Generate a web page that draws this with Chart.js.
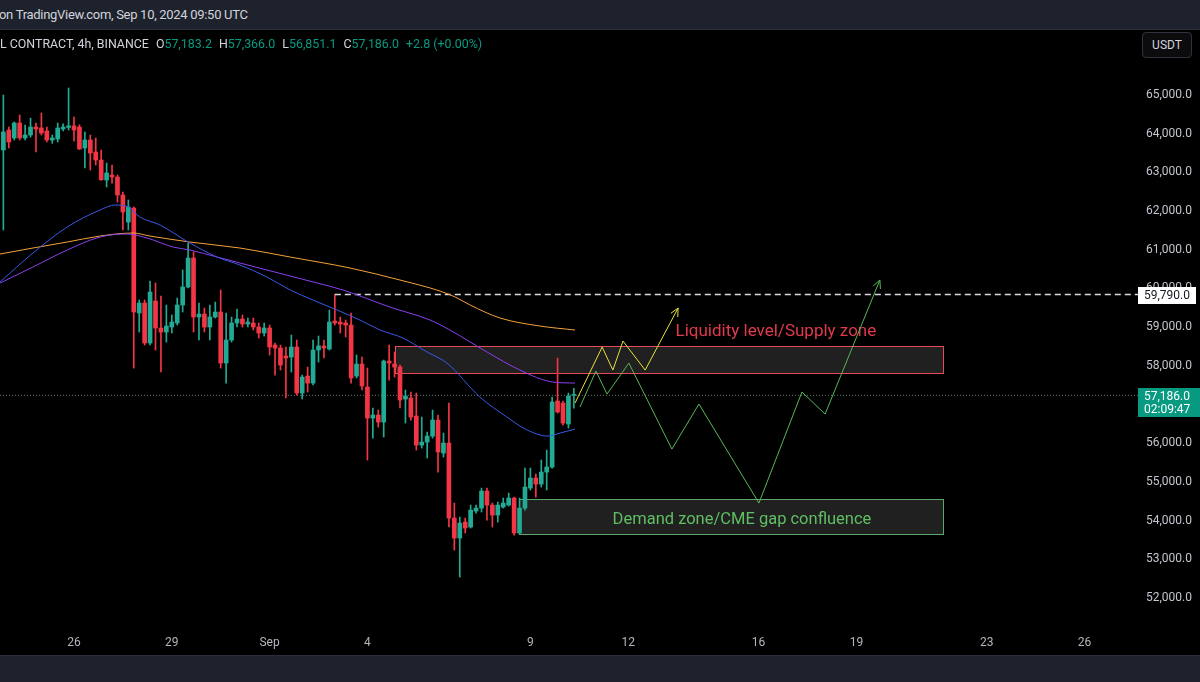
<!DOCTYPE html>
<html><head><meta charset="utf-8">
<script src="https://cdn.jsdelivr.net/npm/chart.js@4.4.0/dist/chart.umd.min.js"></script>
<style>
html,body{margin:0;padding:0;background:#000;width:1200px;height:682px;overflow:hidden;font-family:Roboto,"Noto Sans",sans-serif;}
#top{position:absolute;left:0;top:0;width:1200px;height:29px;background:#1e222d;border-bottom:1px solid #2a2e39;color:#d1d4dc;font-size:13px;line-height:29px;z-index:3;letter-spacing:-0.3px}
#top span{position:relative;left:-1px}
#legend{position:absolute;left:0;top:36px;font-size:12.4px;color:#d1d4dc;white-space:pre;z-index:3}
#legend .v{color:#089981}
#legend .g{margin-left:7px}
#usdt{position:absolute;left:1142px;top:32px;width:50px;height:26px;box-sizing:border-box;border:1px solid #2f333e;border-radius:4px;color:#d1d4dc;font-size:12px;line-height:24px;text-align:center;background:#0c0c0e;z-index:3}
#bottom{position:absolute;left:0;top:655px;width:1200px;height:27px;background:#1e222d;border-top:1px solid #2a2e39;box-sizing:border-box}
#wrap{position:absolute;left:0;top:30px;width:1200px;height:625px;}
</style></head>
<body>
<div id="top"><span>on TradingView.com, Sep 10, 2024 09:50 UTC</span></div>
<div id="legend">L CONTRACT, 4h, BINANCE<span class="g">O</span><span class="v">57,183.2</span><span class="g">H</span><span class="v">57,366.0</span><span class="g">L</span><span class="v">56,851.1</span><span class="g">C</span><span class="v">57,186.0</span><span class="g v">+2.8 (+0.00%)</span></div>
<div id="usdt">USDT</div>
<div id="wrap"><canvas id="c" width="1200" height="625"></canvas></div>
<div id="bottom"></div>
<script>
// ---------- DATA ----------
const startDay = -13/6; // first 4h candle: Aug 23 20:00 (days relative to Aug 26 00:00)
const opens  = [63527,64043,63837,64224,63837,63914,64121,64095,64018,63785,63811,64069,64110,64150,64121,63578,63785,63475,63268,62751,62880,62829,62363,61665,62027,59313,59571,58538,59623,58926,58822,58951,59055,59520,59985,60735,59210,59287,58951,59210,59339,58020,58615,59055,59158,59029,59055,58951,58796,58926,58486,58408,58202,58176,58434,57245,57684,57503,58357,58461,58383,59106,59080,59055,59003,57684,57994,57400,56599,56677,56495,58072,57994,57917,57090,57116,56651,55901,55978,56133,56547,55694,55952,54014,53497,53911,53782,54195,54272,54712,54350,54091,54298,54350,54531,53627,54272,54789,55048,54893,55203,55332,57039,56987,56444,57183.2];
const highs  = [64948,64121,64250,64431,64173,64350,64224,64483,64121,63914,64224,64200,65129,64380,64180,63992,63914,63837,63527,63190,63139,62880,62441,62234,62053,59650,59650,60140,60090,59753,59520,59261,59700,60425,61123,60890,59571,59442,59520,59597,59908,59313,59210,59416,59261,59184,59184,59055,59055,59003,58538,58486,58434,58745,58615,57710,57917,58615,58719,58615,59390,59790,59210,59132,59313,58227,58176,57891,56858,56806,58098,58486,58305,57969,57323,57271,57245,56625,56236,56806,56677,56210,56987,54402,54040,54014,54350,54350,54789,54789,54402,54428,54531,54660,54557,54531,55306,55306,55151,55513,55771,57142,58150,57039,57245,57366.0];
const lows   = [61459,63578,63785,63785,63785,63860,63475,63914,63733,63700,63733,64018,64043,63760,63540,63061,63010,63139,62740,62570,62670,62180,61459,61459,57891,58822,58486,58486,58357,57788,58563,58796,59003,59339,59960,58822,58615,58822,58615,59184,57891,57503,58563,58951,58951,58951,58874,58667,58719,58227,57710,57839,57116,57788,57194,57090,57271,57452,58047,58150,58357,59003,58796,58693,57503,57633,57323,55513,56081,56366,56107,57581,57658,56858,56470,56547,55771,55823,55565,56081,55203,55590,53782,53187,52489,53627,53756,54140,54170,53962,53782,53911,54272,54324,53575,53600,54220,54738,54557,54815,54738,55306,56729,56418,56340,56851.1];
const closes = [63992,63733,64224,63837,63914,64121,64069,63966,63785,63837,64095,64121,64150,64043,63552,63785,63449,63268,62760,62932,62829,62363,61924,62053,59339,59571,58538,59856,58926,58822,58977,59080,59520,59985,60735,59210,59287,58951,59210,59339,58020,58615,59055,59158,59029,59080,58951,58796,58926,58434,58408,57969,58150,58434,57245,57658,57503,58357,58461,58408,59080,59055,59029,59003,57633,57994,57426,56599,56677,56495,58072,58020,57917,57064,57168,56625,55901,55978,56133,56547,55720,55952,54014,53497,53885,53756,54220,54272,54712,54350,54091,54350,54402,54531,53627,54272,54815,55048,54893,55203,55332,57013,56754,56470,57168,57186.0];

// moving averages: [day, price]
const maBlue   = [[-2.27,60114],[-1.26,60864],[-0.21,61536],[0.80,61976],[1.26,62105],[1.66,62053],[2.02,61795],[2.64,61588],[3.50,61148],[4.39,60760],[5.09,60554],[5.92,60243],[6.63,59908],[7.33,59649],[8.07,59390],[8.77,59132],[9.39,58874],[10.09,58667],[10.83,58305],[11.44,58020],[12.45,57142],[13.28,56625],[13.90,56289],[14.54,56133],[14.91,56211],[15.37,56314]];
const maPurple = [[-2.27,60088],[-1.26,60502],[-0.21,60941],[0.80,61278],[1.63,61355],[2.24,61252],[3.04,61019],[3.56,60941],[4.39,60760],[5.09,60606],[5.92,60425],[6.63,60270],[7.46,60090],[8.25,59908],[9.69,59468],[10.92,59132],[11.53,58874],[12.67,58305],[13.68,57839],[14.69,57529],[15.37,57503]];
const maOrange = [[-2.27,60838],[-1.26,60993],[-0.21,61148],[0.80,61303],[1.81,61381],[2.33,61303],[3.56,61148],[5.09,60993],[6.63,60760],[8.47,60476],[10.0,60166],[11.23,59880],[11.69,59727],[12.15,59520],[13.07,59184],[14.29,58977],[15.37,58874]];

// projected paths: [day, price]
const pathYellow = [[15.37,56987],[16.20,58434],[16.53,57839],[16.84,58589],[17.52,57839],[18.53,59442]];
const pathGreen  = [[15.52,56883],[16.01,57813],[16.35,57219],[17.02,58020],[18.34,55797],[19.17,56961],[21.01,54402],[22.33,57271],[23.04,56702],[24.72,60166]];

// zones: [fromDay, toDay, topPrice, bottomPrice]
const supplyZone = [9.85, 26.66, 58460, 57762];
const demandZone = [13.65, 26.66, 54505, 53600];
const supplyText = 'Liquidity level/Supply zone', supplyTextAt = [21.53, 58820];
const demandText = 'Demand zone/CME gap confluence', demandTextAt = [20.49, 53962];

const levelPrice = 59790, levelFrom = 8.0;
const lastPrice = 57186.0, countdown = '02:09:47';

const tickDays   = [0,3,6,9,14,17,21,24,28,31];
const tickLabels = ['26','29','Sep','4','9','12','16','19','23','26'];
const priceTicks = [52000,53000,54000,55000,56000,57000,58000,59000,60000,61000,62000,63000,64000,65000];

const xMin = -2.270, xMax = 32.699, yMin = 51121, yMax = 66628;

// ---------- CHART ----------
const UP = '#22ab94', DN = '#f23645';
const times = opens.map((_, i) => startDay + i / 6);
const candleCol = closes.map((c, i) => c >= opens[i] ? UP : DN);
const fmt = v => v.toLocaleString('en-US', {minimumFractionDigits: 1, maximumFractionDigits: 1});
const pts = a => a.map(p => ({x: p[0], y: p[1]}));

Chart.defaults.font.family = "Roboto, 'Noto Sans', sans-serif";
Chart.defaults.font.size = 12;

const zonePlugin = {
  id: 'zones',
  beforeDatasetsDraw(chart) {
    const {ctx, scales: {x, y}} = chart;
    ctx.save();
    const drawZone = (z, stroke) => {
      const x1 = Math.round(x.getPixelForValue(z[0])) + 0.5, x2 = Math.round(x.getPixelForValue(z[1])) + 0.5;
      const y1 = Math.round(y.getPixelForValue(z[2])) + 0.5, y2 = Math.round(y.getPixelForValue(z[3])) + 0.5;
      ctx.fillStyle = 'rgba(70,70,70,0.45)';
      ctx.fillRect(x1, y1, x2 - x1, y2 - y1);
      ctx.strokeStyle = stroke; ctx.lineWidth = 1;
      ctx.strokeRect(x1, y1, x2 - x1, y2 - y1);
    };
    drawZone(supplyZone, '#ea4a58');
    drawZone(demandZone, '#5aa865');
    ctx.textAlign = 'center'; ctx.textBaseline = 'middle';
    ctx.font = "17px Roboto, 'Noto Sans', sans-serif";
    ctx.fillStyle = '#e03a4c';
    ctx.fillText(supplyText, x.getPixelForValue(supplyTextAt[0]), y.getPixelForValue(supplyTextAt[1]));
    ctx.font = "16.5px Roboto, 'Noto Sans', sans-serif";
    ctx.fillStyle = '#5fbf62';
    ctx.fillText(demandText, x.getPixelForValue(demandTextAt[0]), y.getPixelForValue(demandTextAt[1]));
    ctx.restore();
  },
  afterDatasetsDraw(chart) {
    const {ctx} = chart;
    chart.data.datasets.forEach((ds, i) => {
      if (!ds.arrow) return;
      const d = chart.getDatasetMeta(i).data, n = d.length;
      const a = d[n - 2], b = d[n - 1];
      const ang = Math.atan2(b.y - a.y, b.x - a.x), L = 9;
      ctx.save();
      ctx.strokeStyle = ds.borderColor; ctx.lineWidth = 1;
      ctx.beginPath();
      ctx.moveTo(b.x - L * Math.cos(ang - 0.45), b.y - L * Math.sin(ang - 0.45));
      ctx.lineTo(b.x, b.y);
      ctx.lineTo(b.x - L * Math.cos(ang + 0.45), b.y - L * Math.sin(ang + 0.45));
      ctx.stroke();
      ctx.restore();
    });
  },
  afterDraw(chart) {
    const {ctx, scales: {y}, chartArea} = chart;
    const x0 = chartArea.right - 2;
    ctx.save();
    ctx.font = "12px Roboto, 'Noto Sans', sans-serif";
    ctx.textBaseline = 'middle'; ctx.textAlign = 'left';
    let py = Math.round(y.getPixelForValue(levelPrice));
    ctx.fillStyle = '#ffffff';
    ctx.fillRect(x0, py - 8, 58, 17);
    ctx.fillStyle = '#131722';
    ctx.fillText(fmt(levelPrice), x0 + 6, py + 1);
    py = Math.round(y.getPixelForValue(lastPrice));
    ctx.fillStyle = '#089981';
    ctx.fillRect(x0, py - 7, 62, 29);
    ctx.fillStyle = '#ffffff';
    ctx.fillText(fmt(lastPrice), x0 + 6, py + 2);
    ctx.fillText(countdown, x0 + 6, py + 15);
    ctx.restore();
  }
};

new Chart(document.getElementById('c'), {
  type: 'bar',
  data: {
    datasets: [
      {type: 'line', data: pts(maBlue), borderColor: '#3b57e6', borderWidth: 1, pointRadius: 0, cubicInterpolationMode: 'monotone', order: 0},
      {type: 'line', data: pts(maPurple), borderColor: '#8a3ff2', borderWidth: 1, pointRadius: 0, cubicInterpolationMode: 'monotone', order: 0},
      {type: 'line', data: pts(maOrange), borderColor: '#f2a23a', borderWidth: 1, pointRadius: 0, cubicInterpolationMode: 'monotone', order: 0},
      {type: 'line', data: pts(pathYellow), borderColor: '#e9e03c', borderWidth: 1, pointRadius: 0, tension: 0, arrow: true, order: 0},
      {type: 'line', data: pts(pathGreen), borderColor: '#57b657', borderWidth: 1, pointRadius: 0, tension: 0, arrow: true, order: 0},
      {type: 'line', data: [{x: levelFrom, y: levelPrice}, {x: xMax, y: levelPrice}], borderColor: '#d8dae0', borderWidth: 1.5, borderDash: [6, 4], pointRadius: 0, order: 0},
      {type: 'line', data: [{x: xMin, y: lastPrice}, {x: xMax, y: lastPrice}], borderColor: 'rgba(120,150,140,0.8)', borderWidth: 1, borderDash: [1, 2], pointRadius: 0, order: 3},
      {type: 'bar', data: times.map((t, i) => ({x: t, y: [opens[i], closes[i]]})), backgroundColor: candleCol, barThickness: 4, minBarLength: 1, grouped: false, order: 1},
      {type: 'bar', data: times.map((t, i) => ({x: t, y: [lows[i], highs[i]]})), backgroundColor: candleCol, barThickness: 1, grouped: false, order: 2}
    ]
  },
  options: {
    responsive: false, animation: false, devicePixelRatio: 1,
    layout: {padding: 0},
    plugins: {legend: {display: false}, tooltip: {enabled: false}},
    scales: {
      x: {
        type: 'linear', min: xMin, max: xMax, offset: false,
        grid: {display: false, drawTicks: false}, border: {display: false},
        afterBuildTicks: s => { s.ticks = tickDays.map(v => ({value: v})); },
        afterFit: s => { s.height = 25; s.paddingLeft = 0; s.paddingRight = 0; },
        ticks: {autoSkip: false, maxRotation: 0, padding: 6, color: '#b2b5be', callback: (v, i) => tickLabels[i]}
      },
      y: {
        position: 'right', min: yMin, max: yMax,
        grid: {display: false, drawTicks: false}, border: {display: false},
        afterBuildTicks: s => { s.ticks = priceTicks.map(v => ({value: v})); },
        afterFit: s => { s.width = 60; s.paddingTop = 0; s.paddingBottom = 0; },
        ticks: {padding: 6, labelOffset: 2, color: '#c3c6ce', callback: v => fmt(v)}
      }
    }
  },
  plugins: [zonePlugin]
});
</script>
</body></html>
